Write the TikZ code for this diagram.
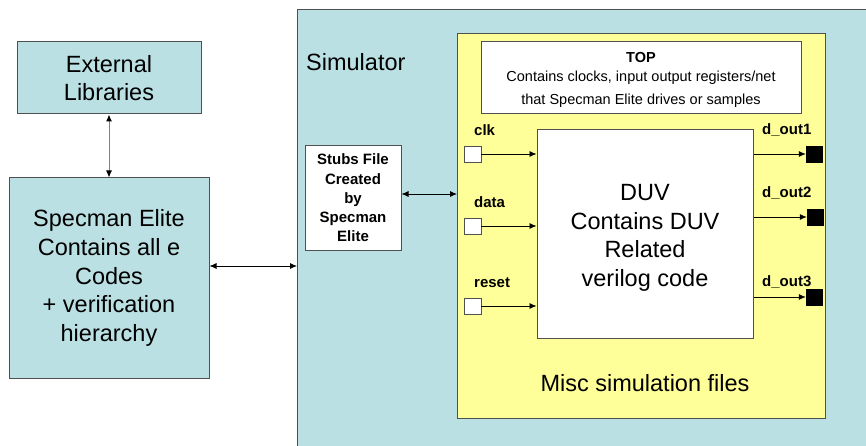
\documentclass[tikz,border=0pt]{standalone}
\usepackage{fontspec}
\setmainfont{Liberation Sans}
\usetikzlibrary{arrows.meta}
\definecolor{simblue}{HTML}{BBE0E3}
\definecolor{miscyel}{HTML}{FFFF99}
\definecolor{edgegray}{HTML}{505050}
\begin{document}
\begin{tikzpicture}[x=1pt,y=-1pt,
  box/.style={draw=edgegray,line width=1pt},
  bigtxt/.style={font=\fontsize{23.5}{28.7}\selectfont,align=center},
  lbl/.style={font=\fontsize{15}{19.2}\selectfont\bfseries,anchor=west,inner sep=0pt},
  arr/.style={-{Latex[length=7pt,width=6pt]},line width=0.8pt},
  darr/.style={{Latex[length=7pt,width=6pt]}-{Latex[length=7pt,width=6pt]},line width=0.8pt},
  grayarr/.style={{Latex[length=7pt,width=6pt,color=black]}-{Latex[length=7pt,width=6pt,color=black]},line width=1pt,draw=gray},
  inport/.style={draw=edgegray,fill=white,line width=0.8pt,minimum width=17pt,minimum height=16pt,inner sep=0pt},
  outport/.style={draw=black,fill=black,minimum width=16pt,minimum height=16pt,inner sep=0pt}]
\useasboundingbox (0,0) rectangle (866,446);
\fill[white] (0,0) rectangle (866,446);
% Simulator
\fill[simblue] (297.5,10.5) rectangle (870,450);
\draw[box] (870,10) -- (297,10) -- (297,450);
\node[font=\fontsize{23.5}{28.7}\selectfont,anchor=west,inner sep=0pt] (simlbl) at (306,62) {Simulator};
% Misc yellow
\draw[box,fill=miscyel] (457,34) rectangle (825,418);
\node[bigtxt] (misc) at (645,383) {Misc simulation files};
% TOP
\draw[box,fill=white] (481,42) rectangle (801,114);
\node[font=\fontsize{14.5}{18}\selectfont\bfseries,inner sep=0pt] (toplbl) at (641,58) {TOP};
\node[font=\fontsize{14.5}{18}\selectfont,inner sep=0pt] (topl2) at (641,78) {Contains clocks, input output registers/net};
\node[font=\fontsize{14.5}{18}\selectfont,inner sep=0pt] (topl3) at (641,101) {that Specman Elite drives or samples};
% External libraries
\node[box,fill=simblue,minimum width=184pt,minimum height=72pt,bigtxt] (ext) at (109,78) {External\\Libraries};
% Specman
\node[box,fill=simblue,minimum width=200pt,minimum height=200pt,bigtxt] (spec) at (109,278) {Specman Elite\\Contains all e\\Codes\\+ verification\\hierarchy};
% Stubs
\node[box,fill=white,minimum width=96pt,minimum height=104pt,font=\fontsize{15}{19.2}\selectfont\bfseries,align=center,inner sep=0pt] (stubs) at (353,198) {Stubs File\\Created\\by\\Specman\\Elite};
% DUV
\node[box,fill=white,minimum width=216pt,minimum height=208pt,bigtxt] (duv) at (645,234) {};
\node[bigtxt] (duvtxt) at (645,238) {DUV\\Contains DUV\\Related\\verilog code};
% connectors left
\coordinate (simleft) at (297,266);
\draw[darr] (spec.east |- simleft) -- (simleft);
\draw[grayarr] (ext.south) -- (spec.north);
\coordinate (yleft) at (457,194);
\draw[darr] (stubs.east |- yleft) -- (yleft);
% input ports
\node[inport] (clk) at (472.5,154) {};
\node[inport] (data) at (472.5,226) {};
\node[inport] (reset) at (472.5,306) {};
\node[lbl] (clkl) at (474,130) {clk};
\node[lbl] (datal) at (474,202) {data};
\node[lbl] (resetl) at (474,283) {reset};
\draw[arr] (clk.east) -- (clk.east -| duv.west);
\draw[arr] (data.east) -- (data.east -| duv.west);
\draw[arr] (reset.east) -- (reset.east -| duv.west);
% output ports
\node[outport] (o1) at (814,154) {};
\node[outport] (o2) at (815,217) {};
\node[outport] (o3) at (814,297) {};
\node[lbl] (o1l) at (762,130) {d\_out1};
\node[lbl] (o2l) at (762,193) {d\_out2};
\node[lbl] (o3l) at (762,282) {d\_out3};
\draw[arr] (o1 -| duv.east) -- (o1.west);
\draw[arr] (o2 -| duv.east) -- (o2.west);
\draw[arr] (o3 -| duv.east) -- (o3.west);
\end{tikzpicture}
\end{document}
